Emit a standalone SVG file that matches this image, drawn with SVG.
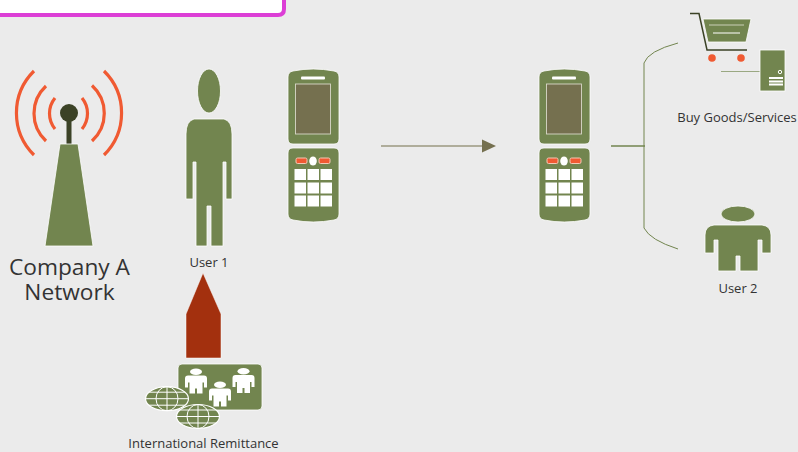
<svg xmlns="http://www.w3.org/2000/svg" xmlns:xlink="http://www.w3.org/1999/xlink" width="798" height="452" viewBox="0 0 798 452">
<defs>
<style>
.g{fill:#72854f;stroke:#fff;stroke-width:.8}
.wave{fill:none;stroke:#f05a32;stroke-width:3.2}
.t{font-family:"Open Sans","Noto Sans","Liberation Sans",sans-serif;fill:#333;text-anchor:middle}
.globeline{fill:none;stroke:#fff;stroke-width:1}
.key{fill:#fff}
.red{fill:#f05a32;stroke:#f3c9b5;stroke-width:1}
</style>
<g id="phone">
<path class="g" d="M288 77Q288 72 293 71Q313 67 334 71Q339 72 339 77V139Q339 144 334 144H293Q288 144 288 139Z"/>
<rect x="301" y="76.500" width="24" height="3" rx="1" fill="#fff"/>
<rect x="295.500" y="84" width="35" height="50" fill="#75704f" stroke="#d8d8c8" stroke-width=".9"/>
<path class="g" d="M293 148H334Q339 148 339 153V214Q339 219 334 220Q313 224 293 220Q288 219 288 214V153Q288 148 293 148Z"/>
<rect class="red" x="296" y="158" width="11" height="5.500" rx="1.500"/>
<rect class="red" x="319" y="158" width="11" height="5.500" rx="1.500"/>
<ellipse cx="313" cy="161" rx="3.800" ry="4.500" fill="#fff"/>
<g class="key">
<rect x="294.500" y="169" width="11.500" height="11"/><rect x="307.500" y="169" width="11.500" height="11"/><rect x="320.500" y="169" width="11.500" height="11"/>
<rect x="294.500" y="182.500" width="11.500" height="11"/><rect x="307.500" y="182.500" width="11.500" height="11"/><rect x="320.500" y="182.500" width="11.500" height="11"/>
<rect x="294.500" y="195.500" width="11.500" height="11"/><rect x="307.500" y="195.500" width="11.500" height="11"/><rect x="320.500" y="195.500" width="11.500" height="11"/>
</g>
</g>
<g id="smallperson" fill="#fff">
<ellipse cx="11" cy="3.200" rx="6" ry="3.200"/>
<path d="M3 7H19Q22 7 22 10V19H19V14H17.500V25H12V20H10V25H4.500V14H3V19H0V10Q0 7 3 7Z"/>
</g>
<g id="globe">
<ellipse cx="0" cy="0" rx="21.500" ry="12" fill="#72854f" stroke="#fff" stroke-width="1.200"/>
<ellipse class="globeline" cx="0" cy="0" rx="11" ry="12"/>
<path class="globeline" d="M0-12V12M-21.500 0H21.500M-18-6.500H18M-18 6.500H18"/>
</g>
</defs>
<rect width="798" height="452" fill="#ebebeb"/>
<g id="banner"><path d="M-10-10H284V9Q284 15 278 15H-10Z" fill="#fff" stroke="#dc3ed6" stroke-width="4"/></g>
<g id="connectors">
<path d="M381 146H483" fill="none" stroke="#9b9880" stroke-width="1.500"/>
<path d="M482 139.500L496 146L482 152.500Z" fill="#75704f"/>
<path d="M611 146H645" fill="none" stroke="#72854f" stroke-width="1.500"/>
<path d="M678 43Q648 51 644 63V228Q650 240 678 249" fill="none" stroke="#72854f" stroke-width="1"/>
</g>
<g id="tower">
<path class="wave" d="M34 71A59 59 0 0 0 34 155"/>
<path class="wave" d="M46 86A37.500 37.500 0 0 0 46 141"/>
<path class="wave" d="M55 98A24.600 24.600 0 0 0 55 129"/>
<path class="wave" d="M104 71A59 59 0 0 1 104 155"/>
<path class="wave" d="M92 85.500A37.500 37.500 0 0 1 92 141"/>
<path class="wave" d="M82 98A24.600 24.600 0 0 1 82 129"/>
<rect x="66.500" y="118" width="5" height="27" fill="#3b4226"/>
<circle cx="69" cy="113" r="9" fill="#3b4226"/>
<path class="g" d="M60 144H78L93 246H45Z"/>
<text class="t" font-size="22.700"><tspan x="69.500" y="275">Company A</tspan><tspan x="69.500" y="300">Network</tspan></text>
</g>
<g id="user1">
<ellipse class="g" cx="209" cy="91" rx="11.500" ry="22"/>
<path class="g" d="M194 119H224Q232 121 232 134V199H226V162H223V246H211V206H207V246H196V162H193V199H186V134Q186 121 194 119Z"/>
<text class="t" x="209" y="267" font-size="13">User 1</text>
</g>
<g id="phone1"><use xlink:href="#phone" href="#phone"/></g>
<g id="phone2"><use xlink:href="#phone" href="#phone" x="251"/></g>
<g id="buy">
<path d="M690 13.500H699L707 50H747" fill="none" stroke="#3b4226" stroke-width="1.500"/>
<path class="g" d="M703 19H751L746 42H708Z"/>
<path d="M709 25H744" stroke="#c9d0b8" stroke-width="1.200"/>
<path d="M713 33H740" stroke="#fff" stroke-width="1"/>
<circle cx="712" cy="58" r="3.800" fill="#f05a32"/>
<circle cx="741" cy="58" r="3.800" fill="#f05a32"/>
<path d="M721 71.500H760" stroke="#9aa882" stroke-width="1.200"/>
<rect class="g" x="760" y="50" width="25" height="41"/>
<circle cx="780" cy="72" r="1.700" fill="none" stroke="#fff" stroke-width="1"/>
<path d="M769 78H783M769 81.500H783M769 84.500H783" stroke="#fff" stroke-width="2"/>
<text class="t" x="737" y="122" font-size="13">Buy Goods/Services</text>
</g>
<g id="user2">
<ellipse class="g" cx="738" cy="214" rx="17" ry="8"/>
<path class="g" d="M714 225H762Q771 226 771 235V253H762V240H758V271H740V256H736V271H718V240H714V253H705V235Q705 226 714 225Z"/>
<text class="t" x="738" y="293" font-size="13">User 2</text>
</g>
<g id="arrow"><path d="M203 273L221 314V358H186V314Z" fill="#a3300e" stroke="#fff" stroke-width=".5"/></g>
<g id="remit">
<rect class="g" x="178" y="364" width="84" height="46" rx="4"/>
<use xlink:href="#smallperson" href="#smallperson" x="185" y="368.500"/>
<use xlink:href="#smallperson" href="#smallperson" x="209" y="381.500"/>
<use xlink:href="#smallperson" href="#smallperson" x="232.500" y="368"/>
<use xlink:href="#globe" href="#globe" x="167" y="398.700"/>
<use xlink:href="#globe" href="#globe" x="198" y="416.500"/>
<text class="t" x="203.500" y="448" font-size="13">International Remittance</text>
</g>
</svg>
